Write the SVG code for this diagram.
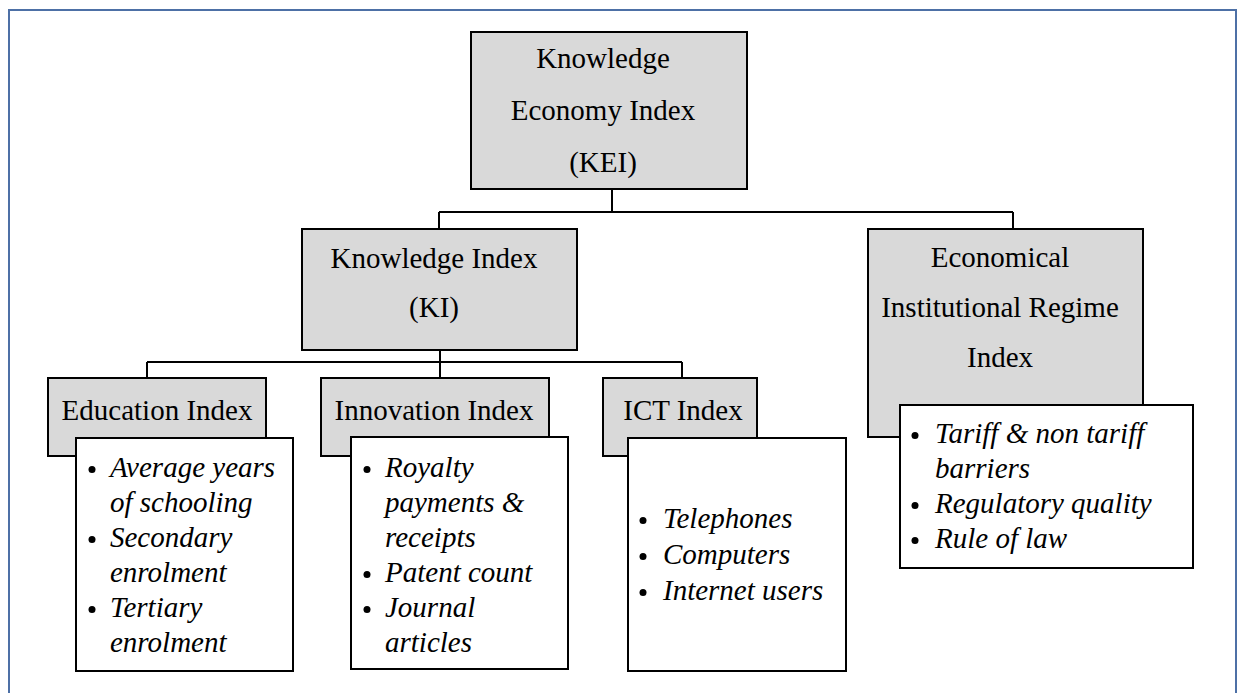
<svg xmlns="http://www.w3.org/2000/svg" width="1238" height="693" viewBox="0 0 1238 693">
  <style>
    .head { fill: #d9d9d9; stroke: #000; stroke-width: 2; }
    .list { fill: #fff; stroke: #000; stroke-width: 2; }
    .c { text-anchor: middle; }
    .i { font-style: italic; }
    .wire { fill: none; stroke: #000; stroke-width: 2; }
    .dot { fill: #000; }
  </style>

  <!-- page frame -->
  <rect x="0" y="0" width="1238" height="693" fill="#fff"/>
  <rect x="9" y="10" width="1227" height="700" fill="none" stroke="#4d70a6" stroke-width="2"/>

  <!-- tree connectors -->
  <g id="connectors" class="wire">
    <path d="M612 189 V212 M439 212 H1013 M439 212 V229 M1013 212 V229"/>
    <path d="M440 350 V378 M147 362 H682 M147 362 V378 M682 362 V378"/>
  </g>

  <g font-family="Liberation Serif, Times New Roman, Times, serif" font-size="29" fill="#000">
  <g id="kei">
    <rect class="head" x="471" y="32" width="276" height="157"/>
    <text class="c" x="603" y="68">Knowledge</text>
    <text class="c" x="603" y="120">Economy Index</text>
    <text class="c" x="603" y="172">(KEI)</text>
  </g>

  <g id="ki">
    <rect class="head" x="302" y="229" width="275" height="121"/>
    <text class="c" x="434" y="268">Knowledge Index</text>
    <text class="c" x="434" y="317">(KI)</text>
  </g>

  <g id="eir">
    <rect class="head" x="868" y="229" width="275" height="208"/>
    <text class="c" x="1000" y="267">Economical</text>
    <text class="c" x="1000" y="317">Institutional Regime</text>
    <text class="c" x="1000" y="367">Index</text>
  </g>

  <g id="education">
    <rect class="head" x="48" y="378" width="218" height="78"/>
    <text class="c" x="157" y="420">Education Index</text>
    <rect class="list" x="76" y="438" width="217" height="233"/>
    <circle class="dot" cx="92" cy="469.5" r="3.5"/>
    <circle class="dot" cx="92" cy="539.5" r="3.5"/>
    <circle class="dot" cx="92" cy="609.5" r="3.5"/>
    <text class="i" x="110" y="477">Average years</text>
    <text class="i" x="110" y="512">of schooling</text>
    <text class="i" x="110" y="547">Secondary</text>
    <text class="i" x="110" y="582">enrolment</text>
    <text class="i" x="110" y="617">Tertiary</text>
    <text class="i" x="110" y="652">enrolment</text>
  </g>

  <g id="innovation">
    <rect class="head" x="321" y="378" width="228" height="78"/>
    <text class="c" x="434" y="420">Innovation Index</text>
    <rect class="list" x="351" y="437" width="217" height="232"/>
    <circle class="dot" cx="367" cy="469.5" r="3.5"/>
    <circle class="dot" cx="367" cy="574.5" r="3.5"/>
    <circle class="dot" cx="367" cy="609.5" r="3.5"/>
    <text class="i" x="385" y="477">Royalty</text>
    <text class="i" x="385" y="512">payments &amp;</text>
    <text class="i" x="385" y="547">receipts</text>
    <text class="i" x="385" y="582">Patent count</text>
    <text class="i" x="385" y="617">Journal</text>
    <text class="i" x="385" y="652">articles</text>
  </g>

  <g id="ict">
    <rect class="head" x="603" y="378" width="154" height="78"/>
    <text class="c" x="683" y="420">ICT Index</text>
    <rect class="list" x="628" y="438" width="218" height="233"/>
    <circle class="dot" cx="643" cy="520.5" r="3.5"/>
    <circle class="dot" cx="643" cy="556.5" r="3.5"/>
    <circle class="dot" cx="643" cy="592.5" r="3.5"/>
    <text class="i" x="663" y="528">Telephones</text>
    <text class="i" x="663" y="564">Computers</text>
    <text class="i" x="663" y="600">Internet users</text>
  </g>

  <g id="eir-list">
    <rect class="list" x="900" y="405" width="293" height="163"/>
    <circle class="dot" cx="915" cy="435.5" r="3.5"/>
    <circle class="dot" cx="915" cy="505.5" r="3.5"/>
    <circle class="dot" cx="915" cy="540.5" r="3.5"/>
    <text class="i" x="935" y="443">Tariff &amp; non tariff</text>
    <text class="i" x="935" y="478">barriers</text>
    <text class="i" x="935" y="513">Regulatory quality</text>
    <text class="i" x="935" y="548">Rule of law</text>
  </g>
  </g>
</svg>
